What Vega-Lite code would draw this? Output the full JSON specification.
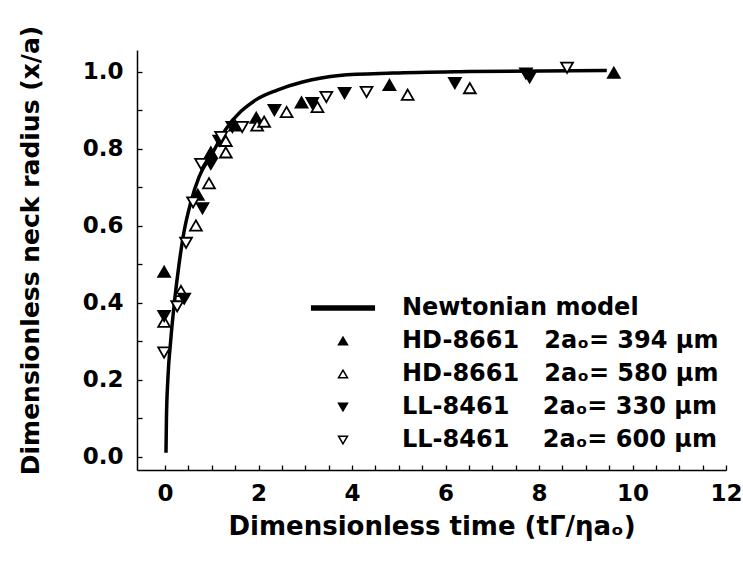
{
  "$schema": "https://vega.github.io/schema/vega-lite/v6.json",
  "width": 589,
  "height": 420,
  "autosize": "none",
  "padding": {"left": 137, "top": 50, "right": 17, "bottom": 92},
  "background": "white",
  "config": {
    "view": {"stroke": null},
    "font": "DejaVu Sans",
    "axis": {
      "domainColor": "black",
      "domainWidth": 1.5,
      "ticks": true,
      "tickColor": "black",
      "tickWidth": 1.3,
      "tickOpacity": 1,
      "grid": false,
      "labelFont": "DejaVu Sans",
      "labelFontWeight": "bold",
      "labelFontSize": 23,
      "labelColor": "black",
      "titleFont": "DejaVu Sans",
      "titleFontWeight": "bold",
      "titleFontSize": 26,
      "titleColor": "black"
    },
    "legend": {
      "orient": "none",
      "legendX": 194,
      "legendY": 246,
      "padding": 0,
      "symbolSize": 80,
      "symbolStrokeWidth": 1.5,
      "symbolStrokeColor": "black",
      "labelFont": "DejaVu Sans",
      "labelFontWeight": "bold",
      "labelFontSize": 24,
      "labelColor": "black",
      "labelOffset": 47,
      "rowPadding": 9,
      "labelLimit": 400
    }
  },
  "datasets": {
    "model": [
      {"t": 0.02, "r": 0.01},
      {"t": 0.03, "r": 0.1},
      {"t": 0.06, "r": 0.2},
      {"t": 0.12, "r": 0.3},
      {"t": 0.2, "r": 0.4},
      {"t": 0.3, "r": 0.5},
      {"t": 0.4, "r": 0.58},
      {"t": 0.55, "r": 0.66},
      {"t": 0.73, "r": 0.727},
      {"t": 1.0, "r": 0.785},
      {"t": 1.3, "r": 0.85},
      {"t": 1.95, "r": 0.927},
      {"t": 2.4, "r": 0.952},
      {"t": 2.94, "r": 0.973},
      {"t": 3.73, "r": 0.99},
      {"t": 4.87, "r": 0.996},
      {"t": 6.5, "r": 1.0},
      {"t": 9.45, "r": 1.003}
    ],
    "obs": [
      {"series": "HD-8661\u00a0\u00a0\u00a02aₒ= 394 μm", "t": -0.02, "r": 0.48},
      {"series": "HD-8661\u00a0\u00a0\u00a02aₒ= 394 μm", "t": 0.7, "r": 0.68},
      {"series": "HD-8661\u00a0\u00a0\u00a02aₒ= 394 μm", "t": 0.98, "r": 0.79},
      {"series": "HD-8661\u00a0\u00a0\u00a02aₒ= 394 μm", "t": 1.5, "r": 0.86},
      {"series": "HD-8661\u00a0\u00a0\u00a02aₒ= 394 μm", "t": 1.95, "r": 0.88},
      {"series": "HD-8661\u00a0\u00a0\u00a02aₒ= 394 μm", "t": 2.92, "r": 0.92},
      {"series": "HD-8661\u00a0\u00a0\u00a02aₒ= 394 μm", "t": 4.8, "r": 0.965},
      {"series": "HD-8661\u00a0\u00a0\u00a02aₒ= 394 μm", "t": 9.6, "r": 0.997},
      {"series": "HD-8661\u00a0\u00a0\u00a02aₒ= 580 μm", "t": -0.02, "r": 0.35},
      {"series": "HD-8661\u00a0\u00a0\u00a02aₒ= 580 μm", "t": 0.34, "r": 0.43},
      {"series": "HD-8661\u00a0\u00a0\u00a02aₒ= 580 μm", "t": 0.66, "r": 0.6},
      {"series": "HD-8661\u00a0\u00a0\u00a02aₒ= 580 μm", "t": 0.94, "r": 0.71},
      {"series": "HD-8661\u00a0\u00a0\u00a02aₒ= 580 μm", "t": 1.3, "r": 0.79},
      {"series": "HD-8661\u00a0\u00a0\u00a02aₒ= 580 μm", "t": 1.3, "r": 0.82},
      {"series": "HD-8661\u00a0\u00a0\u00a02aₒ= 580 μm", "t": 1.97, "r": 0.86},
      {"series": "HD-8661\u00a0\u00a0\u00a02aₒ= 580 μm", "t": 2.12, "r": 0.87},
      {"series": "HD-8661\u00a0\u00a0\u00a02aₒ= 580 μm", "t": 2.6, "r": 0.895},
      {"series": "HD-8661\u00a0\u00a0\u00a02aₒ= 580 μm", "t": 3.26, "r": 0.908},
      {"series": "HD-8661\u00a0\u00a0\u00a02aₒ= 580 μm", "t": 5.19, "r": 0.94},
      {"series": "HD-8661\u00a0\u00a0\u00a02aₒ= 580 μm", "t": 6.52, "r": 0.957},
      {"series": "LL-8461\u00a0\u00a0\u00a0\u00a02aₒ= 330 μm", "t": -0.02, "r": 0.365},
      {"series": "LL-8461\u00a0\u00a0\u00a0\u00a02aₒ= 330 μm", "t": 0.41, "r": 0.41},
      {"series": "LL-8461\u00a0\u00a0\u00a0\u00a02aₒ= 330 μm", "t": 0.8, "r": 0.645},
      {"series": "LL-8461\u00a0\u00a0\u00a0\u00a02aₒ= 330 μm", "t": 0.98, "r": 0.76},
      {"series": "LL-8461\u00a0\u00a0\u00a0\u00a02aₒ= 330 μm", "t": 1.16, "r": 0.82},
      {"series": "LL-8461\u00a0\u00a0\u00a0\u00a02aₒ= 330 μm", "t": 1.44, "r": 0.856},
      {"series": "LL-8461\u00a0\u00a0\u00a0\u00a02aₒ= 330 μm", "t": 2.34, "r": 0.9},
      {"series": "LL-8461\u00a0\u00a0\u00a0\u00a02aₒ= 330 μm", "t": 3.15, "r": 0.918},
      {"series": "LL-8461\u00a0\u00a0\u00a0\u00a02aₒ= 330 μm", "t": 3.84, "r": 0.944},
      {"series": "LL-8461\u00a0\u00a0\u00a0\u00a02aₒ= 330 μm", "t": 6.2, "r": 0.97},
      {"series": "LL-8461\u00a0\u00a0\u00a0\u00a02aₒ= 330 μm", "t": 7.72, "r": 0.995},
      {"series": "LL-8461\u00a0\u00a0\u00a0\u00a02aₒ= 330 μm", "t": 7.8, "r": 0.985},
      {"series": "LL-8461\u00a0\u00a0\u00a0\u00a02aₒ= 600 μm", "t": -0.02, "r": 0.27},
      {"series": "LL-8461\u00a0\u00a0\u00a0\u00a02aₒ= 600 μm", "t": 0.26, "r": 0.39},
      {"series": "LL-8461\u00a0\u00a0\u00a0\u00a02aₒ= 600 μm", "t": 0.45, "r": 0.555},
      {"series": "LL-8461\u00a0\u00a0\u00a0\u00a02aₒ= 600 μm", "t": 0.6, "r": 0.66},
      {"series": "LL-8461\u00a0\u00a0\u00a0\u00a02aₒ= 600 μm", "t": 0.77, "r": 0.76},
      {"series": "LL-8461\u00a0\u00a0\u00a0\u00a02aₒ= 600 μm", "t": 1.2, "r": 0.83},
      {"series": "LL-8461\u00a0\u00a0\u00a0\u00a02aₒ= 600 μm", "t": 1.65, "r": 0.856},
      {"series": "LL-8461\u00a0\u00a0\u00a0\u00a02aₒ= 600 μm", "t": 3.45, "r": 0.934},
      {"series": "LL-8461\u00a0\u00a0\u00a0\u00a02aₒ= 600 μm", "t": 4.31, "r": 0.947},
      {"series": "LL-8461\u00a0\u00a0\u00a0\u00a02aₒ= 600 μm", "t": 8.6, "r": 1.01}
    ]
  },
  "resolve": {"axis": {"x": "independent", "y": "independent"}},
  "layer": [
    {
      "data": {"name": "model"},
      "mark": {"type": "line", "color": "black", "strokeWidth": 3.5, "interpolate": "monotone"},
      "encoding": {
        "x": {
          "field": "t",
          "type": "quantitative",
          "scale": {"domain": [-0.6, 12], "nice": false, "zero": false},
          "axis": {
            "orient": "bottom",
            "title": "Dimensionless time (tΓ/ηaₒ)",
            "values": [0, 2, 4, 6, 8, 10, 12],
            "format": "d",
            "ticks": false,
            "labelPadding": 12,
            "labelFlush": false,
            "labelOverlap": false,
            "titlePadding": 8
          }
        },
        "y": {
          "field": "r",
          "type": "quantitative",
          "scale": {"domain": [-0.035, 1.056], "nice": false, "zero": false},
          "axis": {
            "orient": "left",
            "title": "Dimensionless neck radius (x/a)",
            "values": [0, 0.2, 0.4, 0.6, 0.8, 1.0],
            "format": ".1f",
            "ticks": false,
            "labelPadding": 14,
            "labelOverlap": false,
            "titleX": -107,
            "titleY": 200,
            "titleBaseline": "middle",
            "titleFontSize": 25
          }
        }
      }
    },
    {
      "data": {"name": "obs"},
      "mark": {"type": "point", "filled": true, "stroke": "black", "strokeWidth": 1.8, "size": 140, "opacity": 1},
      "encoding": {
        "x": {
          "field": "t",
          "type": "quantitative",
          "axis": {
            "orient": "top",
            "offset": -420,
            "title": null,
            "labels": false,
            "domain": false,
            "ticks": true,
            "tickSize": 5,
            "tickColor": "black",
            "tickWidth": 1.3,
            "values": [0, 0.5, 1, 1.5, 2, 2.5, 3, 3.5, 4, 4.5, 5, 5.5, 6, 6.5, 7, 7.5, 8, 8.5, 9, 9.5, 10, 10.5, 11, 11.5, 12]
          }
        },
        "y": {
          "field": "r",
          "type": "quantitative",
          "axis": {
            "orient": "right",
            "offset": -589,
            "title": null,
            "labels": false,
            "domain": false,
            "ticks": true,
            "tickSize": 5,
            "tickColor": "black",
            "tickWidth": 1.3,
            "values": [0, 0.1, 0.2, 0.3, 0.4, 0.5, 0.6, 0.7, 0.8, 0.9, 1.0]
          }
        },
        "shape": {
          "field": "series",
          "type": "nominal",
          "scale": {
            "domain": ["Newtonian model", "HD-8661\u00a0\u00a0\u00a02aₒ= 394 μm", "HD-8661\u00a0\u00a0\u00a02aₒ= 580 μm", "LL-8461\u00a0\u00a0\u00a0\u00a02aₒ= 330 μm", "LL-8461\u00a0\u00a0\u00a0\u00a02aₒ= 600 μm"],
            "range": ["M-7,-0.45H7V0.45H-7Z", "triangle-up", "triangle-up", "triangle-down", "triangle-down"]
          },
          "legend": {
            "title": null,
            "encode": {"symbols": {"update": {"stroke": {"value": "black"}, "strokeWidth": {"value": 1.5}}}}
          }
        },
        "fill": {
          "field": "series",
          "type": "nominal",
          "scale": {
            "domain": ["Newtonian model", "HD-8661\u00a0\u00a0\u00a02aₒ= 394 μm", "HD-8661\u00a0\u00a0\u00a02aₒ= 580 μm", "LL-8461\u00a0\u00a0\u00a0\u00a02aₒ= 330 μm", "LL-8461\u00a0\u00a0\u00a0\u00a02aₒ= 600 μm"],
            "range": ["black", "black", "white", "black", "white"]
          },
          "legend": {
            "title": null,
            "encode": {"symbols": {"update": {"stroke": {"value": "black"}, "strokeWidth": {"value": 1.5}}}}
          }
        },
        "stroke": {
          "field": "series",
          "type": "nominal",
          "scale": {
            "domain": ["Newtonian model", "HD-8661\u00a0\u00a0\u00a02aₒ= 394 μm", "HD-8661\u00a0\u00a0\u00a02aₒ= 580 μm", "LL-8461\u00a0\u00a0\u00a0\u00a02aₒ= 330 μm", "LL-8461\u00a0\u00a0\u00a0\u00a02aₒ= 600 μm"],
            "range": ["black", "black", "black", "black", "black"]
          },
          "legend": {"title": null}
        }
      }
    }
  ]
}
